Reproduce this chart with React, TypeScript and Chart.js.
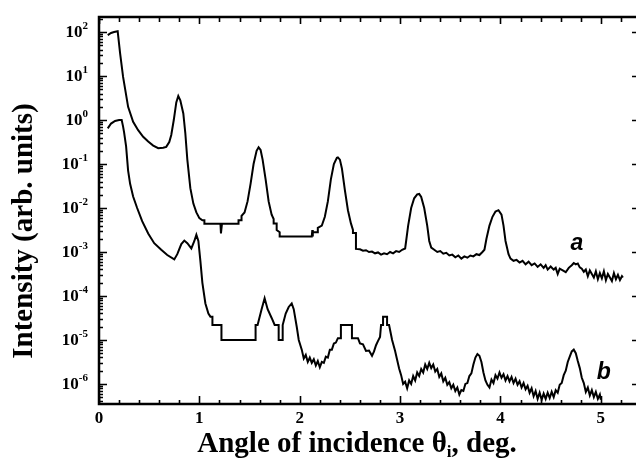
import React, { useEffect, useRef } from "react";
import { Chart, registerables } from "chart.js";
Chart.register(...registerables);

// ---- data (x = angle in deg, values = log10 of intensity) ----
const xTickValues = [0, 1, 2, 3, 4, 5];
const yDecades = [-6, -5, -4, -3, -2, -1, 0, 1, 2];
const xMinorStep = 0.2;
const X_MAX = 5.35;
const Y_MIN = 3.5e-7;
const Y_MAX = 220;

const curveAX = [
  0.087, 0.12, 0.15, 0.186, 0.21, 0.24, 0.29, 0.34, 0.39, 0.44, 0.49, 0.54, 0.59, 0.64, 0.67, 0.7, 0.72, 0.745, 0.77, 0.79,
  0.81, 0.84, 0.86, 0.88, 0.91, 0.94, 0.97, 1.0, 1.03, 1.05, 1.05, 1.21, 1.215, 1.225, 1.39, 1.39, 1.42, 1.42, 1.45, 1.48,
  1.51, 1.54, 1.57, 1.59, 1.61, 1.63, 1.66, 1.69, 1.72, 1.74, 1.74, 1.77, 1.77, 1.8, 1.8, 2.12, 2.125, 2.13, 2.13, 2.18,
  2.18, 2.22, 2.25, 2.28, 2.31, 2.34, 2.37, 2.38, 2.4, 2.42, 2.45, 2.48, 2.51, 2.53, 2.53, 2.56, 2.56, 2.6, 2.63, 2.66,
  2.69, 2.72, 2.75, 2.78, 2.81, 2.84, 2.87, 2.9, 2.93, 2.96, 2.99, 3.02, 3.05, 3.06, 3.08, 3.11, 3.14, 3.17, 3.19, 3.21,
  3.24, 3.27, 3.29, 3.31, 3.34, 3.37, 3.4, 3.43, 3.46, 3.49, 3.52, 3.55, 3.58, 3.61, 3.64, 3.67, 3.7, 3.73, 3.76, 3.79,
  3.82, 3.84, 3.86, 3.89, 3.92, 3.95, 3.98, 4.01, 4.03, 4.05, 4.08, 4.1, 4.13, 4.16, 4.19, 4.22, 4.25, 4.28, 4.31, 4.34,
  4.37, 4.4, 4.43, 4.45, 4.47, 4.5, 4.53, 4.55, 4.57, 4.59, 4.62, 4.65, 4.68, 4.71, 4.73, 4.75, 4.77, 4.79, 4.81, 4.83,
  4.85, 4.87, 4.89, 4.91, 4.93, 4.95, 4.97, 4.99, 5.01, 5.03, 5.05, 5.07, 5.09, 5.11, 5.13, 5.15, 5.17, 5.19, 5.21, 5.22,
];
const curveALog = [
  1.93, 1.98, 2.0, 2.02, 1.52, 0.98, 0.3, -0.04, -0.23, -0.38, -0.49, -0.58, -0.64, -0.63, -0.61, -0.5, -0.34, 0.0, 0.4, 0.545,
  0.45, 0.15, -0.3, -0.9, -1.55, -1.9, -2.1, -2.23, -2.28, -2.28, -2.36, -2.36, -2.58, -2.36, -2.36, -2.28, -2.28, -2.18, -2.1, -1.85,
  -1.45, -1.0, -0.7, -0.62, -0.68, -0.9, -1.35, -1.85, -2.15, -2.25, -2.35, -2.35, -2.5, -2.55, -2.65, -2.65, -2.5, -2.65, -2.55, -2.55,
  -2.45, -2.4, -2.2, -1.85, -1.35, -1.0, -0.86, -0.85, -0.9, -1.1, -1.6, -2.05, -2.35, -2.5, -2.57, -2.57, -2.93, -2.94, -2.97, -2.96,
  -3.0, -2.99, -3.03, -3.01, -3.06, -3.03, -3.05, -3.0, -3.03, -2.98, -3.0, -2.95, -2.92, -2.75, -2.4, -2.0, -1.78, -1.69, -1.68, -1.75,
  -2.0, -2.4, -2.75, -2.9, -2.95, -3.0, -2.98, -3.04, -3.02, -3.08, -3.06, -3.12, -3.08, -3.15, -3.1, -3.13, -3.08, -3.1, -3.05, -3.07,
  -3.0, -2.95, -2.7, -2.4, -2.2, -2.08, -2.05, -2.15, -2.4, -2.75, -3.05, -3.15, -3.2, -3.18, -3.24, -3.2, -3.28, -3.22, -3.3, -3.26,
  -3.34, -3.28, -3.36, -3.3, -3.4, -3.33, -3.4, -3.36, -3.5, -3.38, -3.42, -3.46, -3.36, -3.3, -3.25, -3.28, -3.26, -3.35, -3.38, -3.45,
  -3.4, -3.55, -3.42, -3.5, -3.58, -3.44, -3.62, -3.48, -3.6, -3.44, -3.64, -3.5, -3.58, -3.66, -3.48, -3.62, -3.52, -3.64, -3.55, -3.58,
];

const curveBX = [
  0.087, 0.12, 0.16, 0.2, 0.226, 0.24, 0.25, 0.27, 0.29, 0.31, 0.34, 0.38, 0.43, 0.49, 0.55, 0.62, 0.68, 0.75, 0.78, 0.82,
  0.85, 0.88, 0.92, 0.95, 0.97, 0.99, 1.01, 1.03, 1.06, 1.09, 1.11, 1.13, 1.13, 1.22, 1.22, 1.56, 1.56, 1.58, 1.62, 1.65,
  1.68, 1.72, 1.75, 1.79, 1.79, 1.83, 1.83, 1.86, 1.89, 1.92, 1.94, 1.97, 1.99, 2.02, 2.04, 2.06, 2.08, 2.1, 2.12, 2.14,
  2.16, 2.18, 2.2, 2.22, 2.24, 2.26, 2.28, 2.3, 2.32, 2.34, 2.36, 2.38, 2.41, 2.41, 2.52, 2.52, 2.58, 2.6, 2.63, 2.66,
  2.69, 2.72, 2.74, 2.76, 2.78, 2.8, 2.81, 2.83, 2.83, 2.87, 2.87, 2.89, 2.92, 2.95, 2.97, 2.99, 3.01, 3.03, 3.05, 3.07,
  3.09, 3.11, 3.13, 3.15, 3.17, 3.19, 3.21, 3.23, 3.25, 3.27, 3.29, 3.31, 3.33, 3.35, 3.37, 3.39, 3.41, 3.43, 3.45, 3.47,
  3.49, 3.51, 3.53, 3.55, 3.57, 3.59, 3.61, 3.63, 3.65, 3.67, 3.69, 3.71, 3.73, 3.75, 3.77, 3.79, 3.81, 3.83, 3.85, 3.87,
  3.89, 3.91, 3.93, 3.95, 3.97, 3.99, 4.01, 4.03, 4.05, 4.07, 4.09, 4.11, 4.13, 4.15, 4.17, 4.19, 4.21, 4.23, 4.25, 4.27,
  4.29, 4.31, 4.33, 4.35, 4.37, 4.39, 4.41, 4.43, 4.45, 4.47, 4.49, 4.51, 4.53, 4.55, 4.57, 4.59, 4.61, 4.63, 4.65, 4.67,
  4.69, 4.71, 4.73, 4.75, 4.77, 4.79, 4.81, 4.83, 4.85, 4.87, 4.89, 4.91, 4.93, 4.95, 4.97, 4.99, 5.0,
];
const curveBLog = [
  -0.19, -0.08, -0.02, 0.0, 0.0, -0.15, -0.28, -0.6, -1.15, -1.45, -1.74, -2.0, -2.3, -2.58, -2.8, -2.95, -3.07, -3.17, -3.05, -2.82,
  -2.74, -2.8, -2.92, -2.75, -2.61, -2.75, -3.2, -3.7, -4.17, -4.4, -4.47, -4.47, -4.66, -4.66, -5.0, -5.0, -4.66, -4.66, -4.3, -4.05,
  -4.3, -4.5, -4.66, -4.66, -5.0, -5.0, -4.66, -4.4, -4.25, -4.17, -4.3, -4.7, -5.0, -5.22, -5.42, -5.34, -5.5, -5.4, -5.52, -5.44,
  -5.58, -5.48, -5.62, -5.5, -5.52, -5.38, -5.4, -5.22, -5.22, -5.08, -5.06, -4.96, -4.96, -4.66, -4.66, -4.96, -4.96, -5.08, -5.1, -5.25,
  -5.24, -5.36, -5.26, -5.12, -5.02, -4.93, -4.66, -4.66, -4.47, -4.47, -4.66, -4.66, -5.0, -5.25, -5.45, -5.65, -5.8, -6.0, -5.95, -6.1,
  -5.92, -6.0, -5.82, -5.92, -5.74, -5.82, -5.66, -5.74, -5.56, -5.66, -5.52, -5.64, -5.56, -5.72, -5.66, -5.84, -5.76, -5.94, -5.86, -6.02,
  -5.96, -6.1, -6.02, -6.16, -6.08, -6.24, -6.14, -6.16, -6.0, -5.98, -5.82, -5.76, -5.56, -5.4, -5.32, -5.36, -5.5, -5.74, -5.92, -6.02,
  -6.08, -5.9, -5.98, -5.8, -5.88, -5.74, -5.86, -5.78, -5.92, -5.82, -5.94, -5.84, -5.98, -5.88, -6.02, -5.94, -6.08, -5.98, -6.12, -6.04,
  -6.2, -6.1, -6.28, -6.16, -6.34, -6.2, -6.36, -6.22, -6.34, -6.2, -6.32, -6.18, -6.3, -6.14, -6.2, -6.02, -5.98, -5.8, -5.7, -5.5,
  -5.38, -5.26, -5.22, -5.3, -5.48, -5.64, -5.86, -5.98, -6.18, -6.08, -6.26, -6.14, -6.3, -6.18, -6.34, -6.24, -6.36,
];

const curveLabels = [
  { text: "a", x: 4.76, logY: -2.8 },
  { text: "b", x: 5.03, logY: -5.75 },
];

const yTitle = "Intensity (arb. units)";
const xTitleParts = ["Angle of incidence θ", "i", ", deg."];

const SERIF = '"Liberation Serif", "Times New Roman", serif';
const SANS = '"Liberation Sans", Arial, sans-serif';

function toPoints(xs: number[], logs: number[]) {
  return xs.map((x, i) => ({ x, y: Math.pow(10, logs[i]) }));
}

const decorPlugin = {
  id: "decor",
  afterDraw(chart: any) {
    const { ctx, chartArea } = chart;
    const { left, right, top, bottom } = chartArea;
    const xs = chart.scales.x;
    const ys = chart.scales.y;
    ctx.save();
    ctx.strokeStyle = "#000";
    ctx.fillStyle = "#000";

    // ticks
    ctx.lineWidth = 1.6;
    ctx.beginPath();
    const nMinor = Math.round(X_MAX / xMinorStep);
    for (let i = 0; i <= nMinor; i++) {
      const v = i * xMinorStep;
      if (v > X_MAX) break;
      const px = Math.round(xs.getPixelForValue(v)) + 0.5;
      const major = i % 5 === 0;
      const lb = major ? 8 : 4;
      const lt = major ? 7 : 5;
      ctx.moveTo(px, bottom);
      ctx.lineTo(px, bottom - lb);
      ctx.moveTo(px, top);
      ctx.lineTo(px, top + lt);
    }
    for (let d = -7; d <= 2; d++) {
      for (let m = 1; m <= 9; m++) {
        const v = m * Math.pow(10, d);
        if (v < Y_MIN || v > Y_MAX) continue;
        const py = Math.round(ys.getPixelForValue(v)) + 0.5;
        const major = m === 1;
        ctx.moveTo(left, py);
        ctx.lineTo(left + (major ? 8 : 4), py);
        if (major) {
          ctx.moveTo(right, py);
          ctx.lineTo(right - 4, py);
        }
      }
    }
    ctx.stroke();

    // frame: left, top, bottom (right edge falls outside the picture)
    ctx.lineWidth = 2.5;
    ctx.beginPath();
    ctx.moveTo(right, top);
    ctx.lineTo(left, top);
    ctx.lineTo(left, bottom);
    ctx.lineTo(right, bottom);
    ctx.stroke();

    // y tick labels 10^n
    ctx.textBaseline = "middle";
    ctx.textAlign = "left";
    for (const d of yDecades) {
      const py = ys.getPixelForValue(Math.pow(10, d));
      const exp = d < 0 ? "-" + Math.abs(d) : String(d);
      ctx.font = `bold 11px ${SERIF}`;
      const ew = ctx.measureText(exp).width;
      ctx.font = `bold 17px ${SERIF}`;
      const bw = ctx.measureText("10").width;
      const endX = left - 11;
      ctx.fillText("10", endX - ew - bw, py + 1);
      ctx.font = `bold 11px ${SERIF}`;
      ctx.fillText(exp, endX - ew, py - 6);
    }

    // curve labels
    ctx.font = `italic bold 23px ${SANS}`;
    ctx.textAlign = "center";
    ctx.textBaseline = "middle";
    for (const l of curveLabels) {
      ctx.fillText(l.text, xs.getPixelForValue(l.x), ys.getPixelForValue(Math.pow(10, l.logY)));
    }

    // y title
    ctx.save();
    ctx.translate(25, 231);
    ctx.rotate(-Math.PI / 2);
    ctx.font = `bold 29px ${SERIF}`;
    ctx.textAlign = "center";
    ctx.textBaseline = "middle";
    ctx.fillText(yTitle, 0, 0);
    ctx.restore();

    // x title with subscript
    ctx.textAlign = "left";
    ctx.textBaseline = "alphabetic";
    const bigF = `bold 29px ${SERIF}`;
    const subF = `bold 17px ${SERIF}`;
    ctx.font = bigF;
    const w0 = ctx.measureText(xTitleParts[0]).width;
    const w2 = ctx.measureText(xTitleParts[2]).width;
    ctx.font = subF;
    const w1 = ctx.measureText(xTitleParts[1]).width;
    const total = w0 + w1 + w2;
    let sx = 357 - total / 2;
    const base = 452;
    ctx.font = bigF;
    ctx.fillText(xTitleParts[0], sx, base);
    sx += w0;
    ctx.font = subF;
    ctx.fillText(xTitleParts[1], sx, base + 5);
    sx += w1;
    ctx.font = bigF;
    ctx.fillText(xTitleParts[2], sx, base);
    ctx.restore();
  },
};

export default function App() {
  const ref = useRef<HTMLCanvasElement>(null);
  useEffect(() => {
    if (!ref.current) return;
    const chart = new Chart(ref.current, {
      type: "line",
      data: {
        datasets: [
          {
            label: "a",
            data: toPoints(curveAX, curveALog),
            borderColor: "#000",
            borderWidth: 2,
            pointRadius: 0,
            tension: 0,
            fill: false,
          },
          {
            label: "b",
            data: toPoints(curveBX, curveBLog),
            borderColor: "#000",
            borderWidth: 2,
            pointRadius: 0,
            tension: 0,
            fill: false,
          },
        ],
      },
      options: {
        animation: false,
        responsive: false,
        devicePixelRatio: 1,
        layout: { padding: { top: 17, right: 0, left: 0, bottom: 0 } },
        plugins: { legend: { display: false }, tooltip: { enabled: false } },
        scales: {
          x: {
            type: "linear",
            min: 0,
            max: X_MAX,
            grid: { display: false, drawTicks: false },
            border: { display: false },
            ticks: {
              color: "#000",
              font: { family: SERIF, size: 17, weight: "bold" },
              padding: 4,
              maxRotation: 0,
              autoSkip: false,
            },
            afterBuildTicks: (s: any) => {
              s.ticks = xTickValues.map((v) => ({ value: v }));
            },
            afterFit: (s: any) => {
              s.height = 55;
            },
          },
          y: {
            type: "logarithmic",
            min: Y_MIN,
            max: Y_MAX,
            grid: { display: false, drawTicks: false },
            border: { display: false },
            ticks: { display: false },
            afterFit: (s: any) => {
              s.width = 99;
            },
          },
        },
      },
      plugins: [decorPlugin],
    } as any);
    return () => chart.destroy();
  }, []);
  return (
    <div style={{ position: "fixed", left: 0, top: 0, width: 636, height: 459, background: "#fff" }}>
      <canvas ref={ref} width={636} height={459} style={{ display: "block", width: 636, height: 459 }} />
    </div>
  );
}
